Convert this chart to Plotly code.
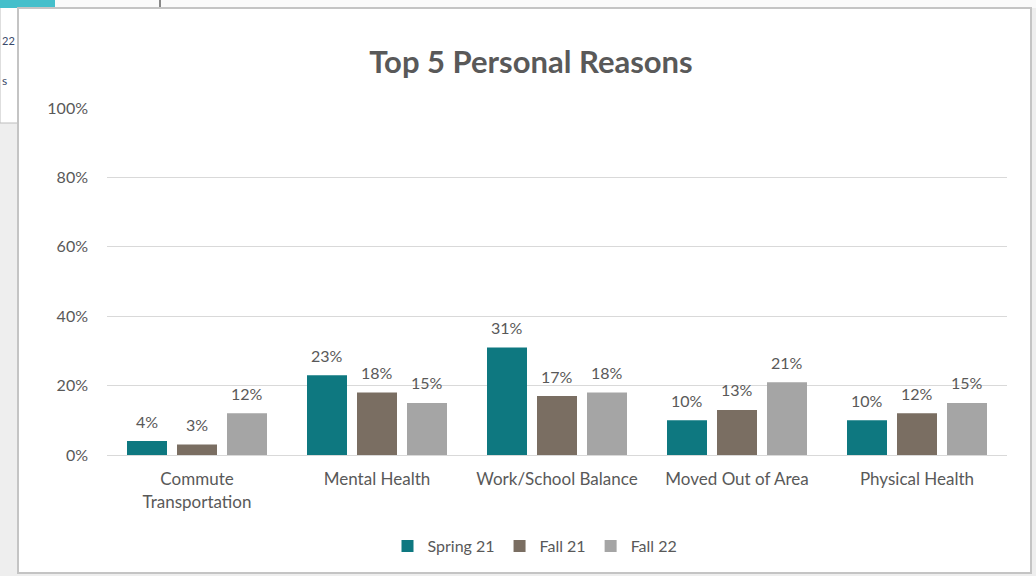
import plotly.graph_objects as go

# Survey results: share of respondents citing each personal reason
categories = ["Commute<br>Transportation", "Mental Health", "Work/School Balance",
              "Moved Out of Area", "Physical Health"]
spring_21 = [0.04, 0.23, 0.31, 0.10, 0.10]
fall_21 = [0.03, 0.18, 0.17, 0.13, 0.12]
fall_22 = [0.12, 0.15, 0.18, 0.21, 0.15]
y_ticks = [0, 0.2, 0.4, 0.6, 0.8, 1.0]

W, H = 1036, 576
ML, MR, MT, MB = 107, 29, 108, 121
PW, PH = W - ML - MR, H - MT - MB
FONT = "Lato"
TXT = "#595959"
BAR_PITCH = 50  # px between neighbouring bars inside a group


def px_x(x):
    return (x - ML) / PW


def px_y(y):
    return (H - MB - y) / PH


series = [
    ("Spring 21", spring_21, "#0E7880"),
    ("Fall 21", fall_21, "#7A6E62"),
    ("Fall 22", fall_22, "#A5A5A5"),
]

fig = go.Figure()
annotations = []
for i, (name, vals, color) in enumerate(series):
    fig.add_trace(go.Bar(
        x=categories, y=vals, name=name,
        marker=dict(color=color, line=dict(width=0)),
    ))
    # value labels sitting a little above each bar
    for cat, v in zip(categories, vals):
        annotations.append(dict(
            x=cat, y=v, xref="x", yref="y", text=f"{v:.0%}", showarrow=False,
            xanchor="center", yanchor="middle",
            xshift=(i - 1) * BAR_PITCH, yshift=20,
            font=dict(family=FONT, size=16, color=TXT),
        ))

shapes = [
    # surrounding window chrome
    dict(type="rect", xref="paper", yref="paper", x0=px_x(0), x1=px_x(W), y0=px_y(H), y1=px_y(0),
         fillcolor="#EEEEEE", line=dict(width=0), layer="below"),
    dict(type="rect", xref="paper", yref="paper", x0=px_x(0), x1=px_x(40), y0=px_y(123), y1=px_y(0),
         fillcolor="#FFFFFF", line=dict(color="#BDBDBD", width=1), layer="below"),
    dict(type="rect", xref="paper", yref="paper", x0=px_x(0), x1=px_x(55), y0=px_y(8), y1=px_y(0),
         fillcolor="#45BFCB", line=dict(width=0), layer="below"),
    dict(type="rect", xref="paper", yref="paper", x0=px_x(55), x1=px_x(W), y0=px_y(8), y1=px_y(0),
         fillcolor="#FAFAFA", line=dict(width=0), layer="below"),
    dict(type="line", xref="paper", yref="paper", x0=px_x(160), x1=px_x(160), y0=px_y(8), y1=px_y(0),
         line=dict(color="#888888", width=2), layer="below"),
    # chart frame
    dict(type="rect", xref="paper", yref="paper", x0=px_x(18), x1=px_x(1031), y0=px_y(573), y1=px_y(8),
         fillcolor="#FFFFFF", line=dict(color="#C4C4C4", width=2), layer="below"),
]

annotations += [
    dict(text="22", xref="paper", yref="paper", x=px_x(0), y=px_y(41), xanchor="left", yanchor="middle",
         showarrow=False, font=dict(family=FONT, size=11, color="#3A4A6A")),
    dict(text="s", xref="paper", yref="paper", x=px_x(0), y=px_y(81), xanchor="left", yanchor="middle",
         showarrow=False, font=dict(family=FONT, size=12, color="#3A4A6A")),
]

fig.update_layout(
    width=W, height=H,
    margin=dict(l=ML, r=MR, t=MT, b=MB),
    paper_bgcolor="#FFFFFF", plot_bgcolor="rgba(0,0,0,0)",
    title=dict(text="<b>Top 5 Personal Reasons</b>", x=531 / W, xref="container", xanchor="center",
               y=1 - 62 / H, yref="container", yanchor="middle",
               font=dict(family=FONT, size=31, color=TXT)),
    barmode="group", bargap=0.1667, bargroupgap=0.2,
    showlegend=True,
    legend=dict(orientation="h", x=535 / W, xref="container", xanchor="center",
                y=1 - 546 / H, yref="container", yanchor="middle",
                font=dict(family=FONT, size=16, color=TXT), itemwidth=30,
                bgcolor="rgba(0,0,0,0)"),
    shapes=shapes, annotations=annotations,
)
fig.update_xaxes(showgrid=False, showline=True, linecolor="#D9D9D9", linewidth=1, ticks="",
                 tickfont=dict(family=FONT, size=17, color=TXT), ticklabelstandoff=9)
fig.update_yaxes(range=[0, 1], tickvals=y_ticks, tickformat=".0%", showgrid=True,
                 gridcolor="#D9D9D9", gridwidth=1, zeroline=False, showline=False,
                 tickfont=dict(family=FONT, size=16, color=TXT), ticklabelstandoff=18)

fig.write_html("out.html")
